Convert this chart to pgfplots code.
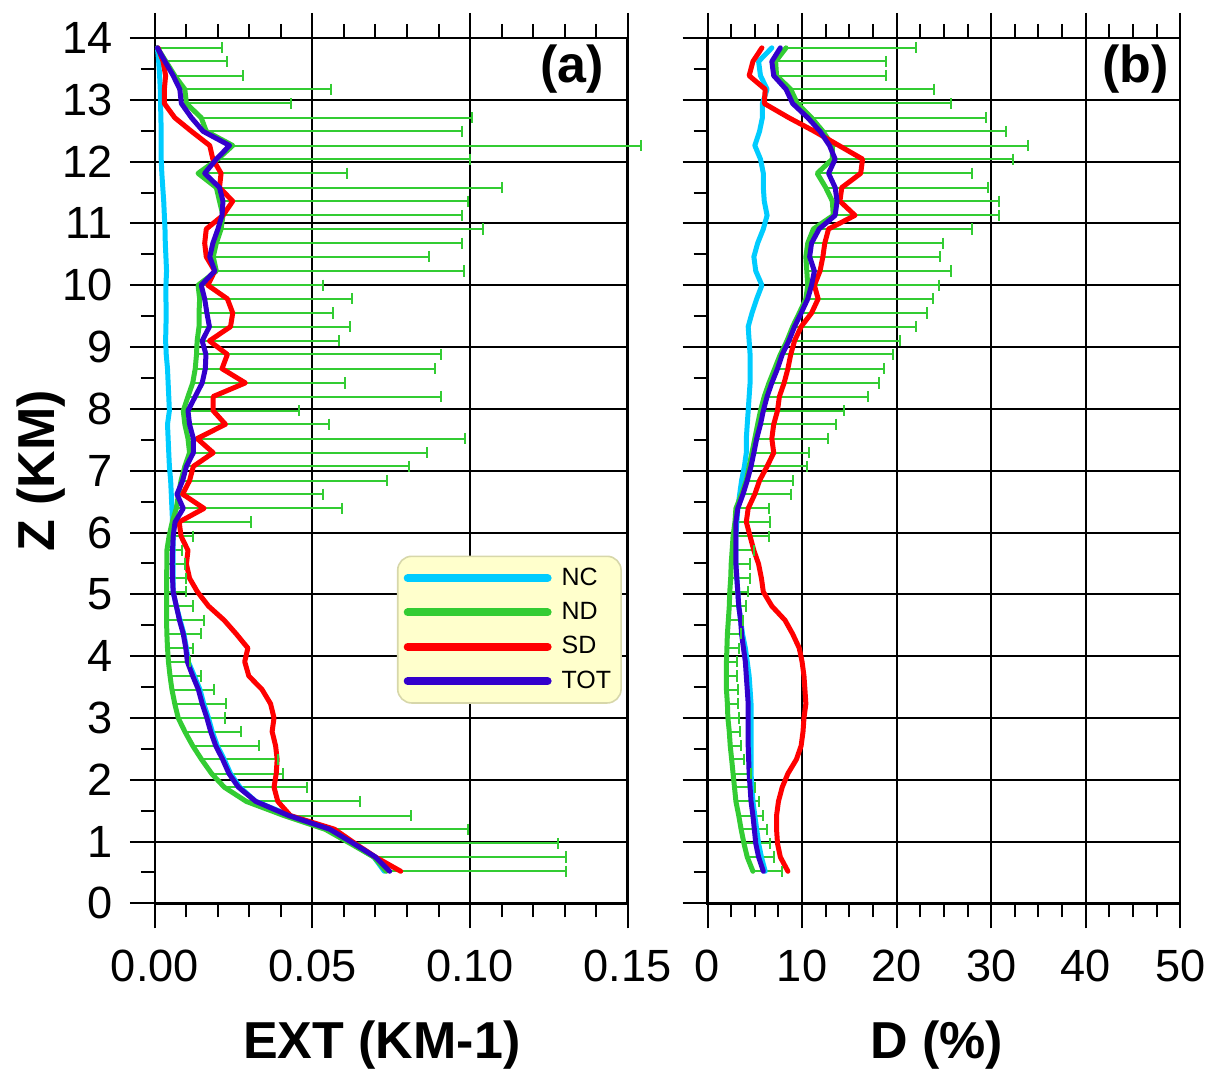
\documentclass[border=0pt]{standalone}
\usepackage{pgfplots}
\pgfplotsset{compat=1.18}
\usepackage{pgfplotstable}
\usepackage{fontspec}
\setmainfont{Liberation Sans}

\definecolor{nccyan}{RGB}{0,204,255}
\definecolor{ndgreen}{RGB}{51,204,51}
\definecolor{sdred}{RGB}{255,0,0}
\definecolor{totblue}{RGB}{51,0,204}
\definecolor{legfill}{RGB}{255,255,204}
\definecolor{legdraw}{RGB}{215,215,170}

% panel (a): extinction (km^-1); cap = ND + error
\pgfplotstableread{
z nc nd sd tot cap
0.52 0.0728 0.0734 0.0780 0.0745 0.1306
0.75 0.0695 0.0695 0.0700 0.0700 0.1306
0.97 0.0625 0.0620 0.0635 0.0630 0.1280
1.20 0.0555 0.0540 0.0570 0.0555 0.0994
1.42 0.0430 0.0410 0.0430 0.0425 0.0813
1.65 0.0320 0.0290 0.0390 0.0320 0.0652
1.88 0.0270 0.0220 0.0378 0.0265 0.0482
2.10 0.0240 0.0180 0.0385 0.0235 0.0408
2.33 0.0220 0.0148 0.0388 0.0215 0.0390
2.55 0.0198 0.0120 0.0383 0.0193 0.0330
2.78 0.0182 0.0095 0.0372 0.0177 0.0272
3.00 0.0170 0.0074 0.0378 0.0165 0.0222
3.23 0.0155 0.0063 0.0367 0.0150 0.0226
3.46 0.0143 0.0054 0.0340 0.0138 0.0188
3.68 0.0125 0.0048 0.0298 0.0120 0.0145
3.91 0.0106 0.0043 0.0285 0.0103 0.0110
4.13 0.0100 0.0040 0.0295 0.0098 0.0120
4.36 0.0092 0.0038 0.0258 0.0090 0.0145
4.58 0.0080 0.0037 0.0220 0.0078 0.0156
4.81 0.0068 0.0037 0.0170 0.0068 0.0122
5.04 0.0058 0.0037 0.0135 0.0058 0.0100
5.26 0.0058 0.0037 0.0110 0.0056 0.0100
5.49 0.0058 0.0038 0.0100 0.0055 0.0096
5.71 0.0058 0.0038 0.0105 0.0056 0.0085
5.94 0.0058 0.0045 0.0083 0.0058 0.0120
6.17 0.0056 0.0055 0.0077 0.0064 0.0304
6.39 0.0054 0.0068 0.0156 0.0090 0.0593
6.62 0.0052 0.0075 0.0088 0.0070 0.0534
6.84 0.0050 0.0083 0.0110 0.0088 0.0737
7.07 0.0046 0.0095 0.0122 0.0100 0.0805
7.29 0.0044 0.0110 0.0185 0.0122 0.0865
7.52 0.0042 0.0105 0.0134 0.0122 0.0984
7.75 0.0040 0.0095 0.0224 0.0110 0.0551
7.97 0.0046 0.0090 0.0185 0.0105 0.0457
8.20 0.0044 0.0105 0.0185 0.0128 0.0907
8.42 0.0042 0.0120 0.0287 0.0150 0.0604
8.65 0.0040 0.0128 0.0213 0.0160 0.0890
8.88 0.0036 0.0132 0.0230 0.0162 0.0907
9.10 0.0034 0.0134 0.0173 0.0150 0.0585
9.33 0.0035 0.0140 0.0240 0.0173 0.0619
9.55 0.0036 0.0140 0.0247 0.0165 0.0566
9.78 0.0035 0.0142 0.0230 0.0158 0.0626
10.00 0.0035 0.0137 0.0168 0.0147 0.0535
10.23 0.0037 0.0195 0.0190 0.0190 0.0982
10.46 0.0035 0.0185 0.0163 0.0174 0.0871
10.68 0.0033 0.0195 0.0158 0.0184 0.0974
10.91 0.0032 0.0210 0.0163 0.0200 0.1040
11.13 0.0030 0.0216 0.0216 0.0213 0.0974
11.36 0.0028 0.0205 0.0247 0.0216 0.0993
11.58 0.0025 0.0195 0.0205 0.0205 0.1100
11.81 0.0022 0.0137 0.0210 0.0158 0.0609
12.04 0.0020 0.0200 0.0184 0.0195 0.0999
12.26 0.0020 0.0247 0.0174 0.0237 0.1542
12.49 0.0020 0.0163 0.0116 0.0153 0.0973
12.71 0.0019 0.0147 0.0063 0.0116 0.1007
12.94 0.0018 0.0100 0.0030 0.0084 0.0433
13.17 0.0017 0.0095 0.0030 0.0079 0.0558
13.39 0.0015 0.0063 0.0034 0.0058 0.0280
13.62 0.0012 0.0035 0.0026 0.0032 0.0230
13.84 0.0008 0.0008 0.0010 0.0008 0.0213
}\exttab

% panel (b): D (%); cap = ND + error
\pgfplotstableread{
z nc nd sd tot cap
0.52 6.1 4.8 8.5 5.9 7.9
0.75 5.7 4.2 7.7 5.4 7.0
0.97 5.4 3.85 7.4 5.1 6.6
1.20 5.2 3.55 7.3 4.95 6.25
1.42 5.0 3.3 7.3 4.8 5.9
1.65 4.8 3.0 7.5 4.6 5.4
1.88 4.7 2.85 7.9 4.5 5.0
2.10 4.6 2.7 8.5 4.4 4.6
2.33 4.6 2.55 9.4 4.35 3.9
2.55 4.6 2.4 9.9 4.3 3.5
2.78 4.6 2.3 10.1 4.3 3.4
3.00 4.6 2.15 10.2 4.3 3.3
3.23 4.6 2.1 10.4 4.3 3.2
3.46 4.5 2.0 10.3 4.2 3.2
3.68 4.4 2.0 10.2 4.1 3.1
3.91 4.2 2.0 10.0 4.0 3.1
4.13 4.0 2.05 9.7 3.8 3.3
4.36 3.7 2.1 9.0 3.6 3.5
4.58 3.5 2.2 8.2 3.5 3.7
4.81 3.3 2.3 6.8 3.3 4.1
5.04 3.2 2.35 5.9 3.2 4.3
5.26 3.1 2.45 5.7 3.1 4.5
5.49 3.0 2.5 5.4 3.0 4.5
5.71 3.0 2.6 4.9 3.0 4.9
5.94 3.0 2.7 4.5 3.0 6.5
6.17 3.1 2.9 4.1 3.0 6.6
6.39 3.2 3.0 4.3 3.2 6.5
6.62 3.4 3.6 5.0 3.75 8.8
6.84 3.6 4.1 5.5 4.2 9.0
7.07 3.9 4.4 6.3 4.6 10.5
7.29 4.1 4.7 7.0 4.9 10.7
7.52 4.1 5.0 6.8 5.2 12.7
7.75 4.2 5.3 7.0 5.6 13.6
7.97 4.3 5.6 7.4 5.9 14.4
8.20 4.4 6.0 7.6 6.3 17.0
8.42 4.5 6.5 8.1 6.8 18.1
8.65 4.5 7.1 8.5 7.4 18.7
8.88 4.5 7.7 8.8 7.9 19.6
9.10 4.4 8.4 9.2 8.6 20.4
9.33 4.3 9.0 9.9 9.2 22.0
9.55 4.7 9.7 11.0 9.9 23.2
9.78 5.2 10.4 11.7 10.6 23.8
10.00 5.75 10.6 11.3 11.0 24.5
10.23 5.1 10.5 11.9 11.3 25.7
10.46 4.9 10.4 12.2 10.8 24.6
10.68 5.3 10.6 12.4 11.0 24.9
10.91 5.9 11.2 12.8 11.8 28.0
11.13 6.3 13.3 15.6 13.5 30.8
11.36 6.0 13.2 14.0 13.7 30.8
11.58 5.9 12.5 14.2 13.5 29.7
11.81 5.9 11.6 16.2 12.8 28.0
12.04 5.6 13.2 16.4 13.5 32.3
12.26 5.0 13.2 13.9 12.9 33.9
12.49 5.5 12.2 11.3 11.9 31.6
12.71 5.8 11.0 8.6 10.6 29.5
12.94 5.8 9.5 6.0 9.0 25.7
13.17 6.3 8.8 6.1 8.3 24.0
13.39 5.6 7.3 4.4 7.0 18.9
13.62 5.4 7.2 4.8 6.8 18.9
13.84 6.8 8.3 5.75 7.7 22.0
}\dtab

\pgfplotsset{
  panel/.style={
    scale only axis, width=236.5pt, height=433pt,
    ymin=0, ymax=14, ytick={0,1,2,3,4,5,6,7,8,9,10,11,12,13,14},
    minor y tick num=1,
    ytick pos=left,
    tick align=outside,
    major tick length=12.5pt, minor tick length=7pt,
    grid=major, major grid style={black, line width=1pt},
    axis line style={black, line width=1.2pt},
    tick style={black, line width=1pt},
    ticklabel style={font=\fontsize{22.6}{22.6}\selectfont},
    xticklabel style={yshift=-7.5pt},
    yticklabel style={xshift=-5pt},
    clip=false,
    every axis x label/.style={at={(axis description cs:0.48,-0.164)}, anchor=center, font=\bfseries\fontsize{26}{26}\selectfont},
    every axis y label/.style={at={(axis description cs:-0.241,0.5)}, rotate=90, anchor=center, font=\bfseries\fontsize{26}{26}\selectfont},
  },
  ebar/.style={forget plot, ndgreen, line width=1pt,
    quiver={u=\thisrow{cap}-\thisrow{nd}, v=0, scale arrows=1}},
  ecap/.style={forget plot, only marks, mark=|, mark size=2.8pt,
    mark options={ndgreen, line width=1pt}},
  crv/.style={line width=2.5pt, line join=round, line cap=round},
}

\begin{document}
\begin{tikzpicture}
\path (0,0) rectangle (606pt,538pt);

\begin{axis}[panel,
  at={(77.5pt,86pt)}, anchor=south west,
  xmin=0, xmax=0.15, xtick={0,0.05,0.1,0.15},
  xticklabels={0.00,0.05,0.10,0.15}, minor x tick num=4,
  yticklabels={0,1,2,3,4,5,6,7,8,9,10,11,12,13,14},
  xlabel={EXT (KM-1)}, ylabel={Z (KM)},
  legend style={at={(0.512,0.402)}, anchor=north west, draw=legdraw, fill=legfill,
    rounded corners=7pt, line width=0.8pt,
    font=\fontsize{12.5}{12.5}\selectfont, inner xsep=3pt, inner ysep=3.8pt, row sep=3pt,
    /tikz/every odd column/.append style={column sep=3pt}},
  legend cell align=left,
  legend image code/.code={\draw[#1, line width=4pt, line cap=round] (0pt,0pt) -- (70pt,0pt);},
]
\addplot[ebar] table[x=nd, y=z] {\exttab};
\addplot[ecap] table[x=cap, y=z] {\exttab};
\addplot[crv, nccyan] table[x=nc, y=z] {\exttab};
\addplot[crv, ndgreen] table[x=nd, y=z] {\exttab};
\addplot[crv, sdred] table[x=sd, y=z] {\exttab};
\addplot[crv, totblue] table[x=tot, y=z] {\exttab};
\legend{NC,ND,SD,TOT}
\node[anchor=north east, inner sep=0pt, font=\bfseries\fontsize{26}{26}\selectfont] at (rel axis cs:0.951,0.993) {(a)};
\end{axis}

\begin{axis}[panel,
  at={(354pt,86pt)}, anchor=south west,
  xmin=0, xmax=50, xtick={0,10,20,30,40,50},
  xticklabels={0,10,20,30,40,50}, minor x tick num=3,
  yticklabels={},
  xlabel={D (\%)},
  every axis x label/.style={at={(axis description cs:0.485,-0.164)}, anchor=center, font=\bfseries\fontsize{26}{26}\selectfont},
]
\addplot[ebar] table[x=nd, y=z] {\dtab};
\addplot[ecap] table[x=cap, y=z] {\dtab};
\addplot[crv, nccyan] table[x=nc, y=z] {\dtab};
\addplot[crv, ndgreen] table[x=nd, y=z] {\dtab};
\addplot[crv, sdred] table[x=sd, y=z] {\dtab};
\addplot[crv, totblue] table[x=tot, y=z] {\dtab};
\node[anchor=north east, inner sep=0pt, font=\bfseries\fontsize{26}{26}\selectfont] at (rel axis cs:0.976,0.993) {(b)};
\end{axis}
\end{tikzpicture}
\end{document}
